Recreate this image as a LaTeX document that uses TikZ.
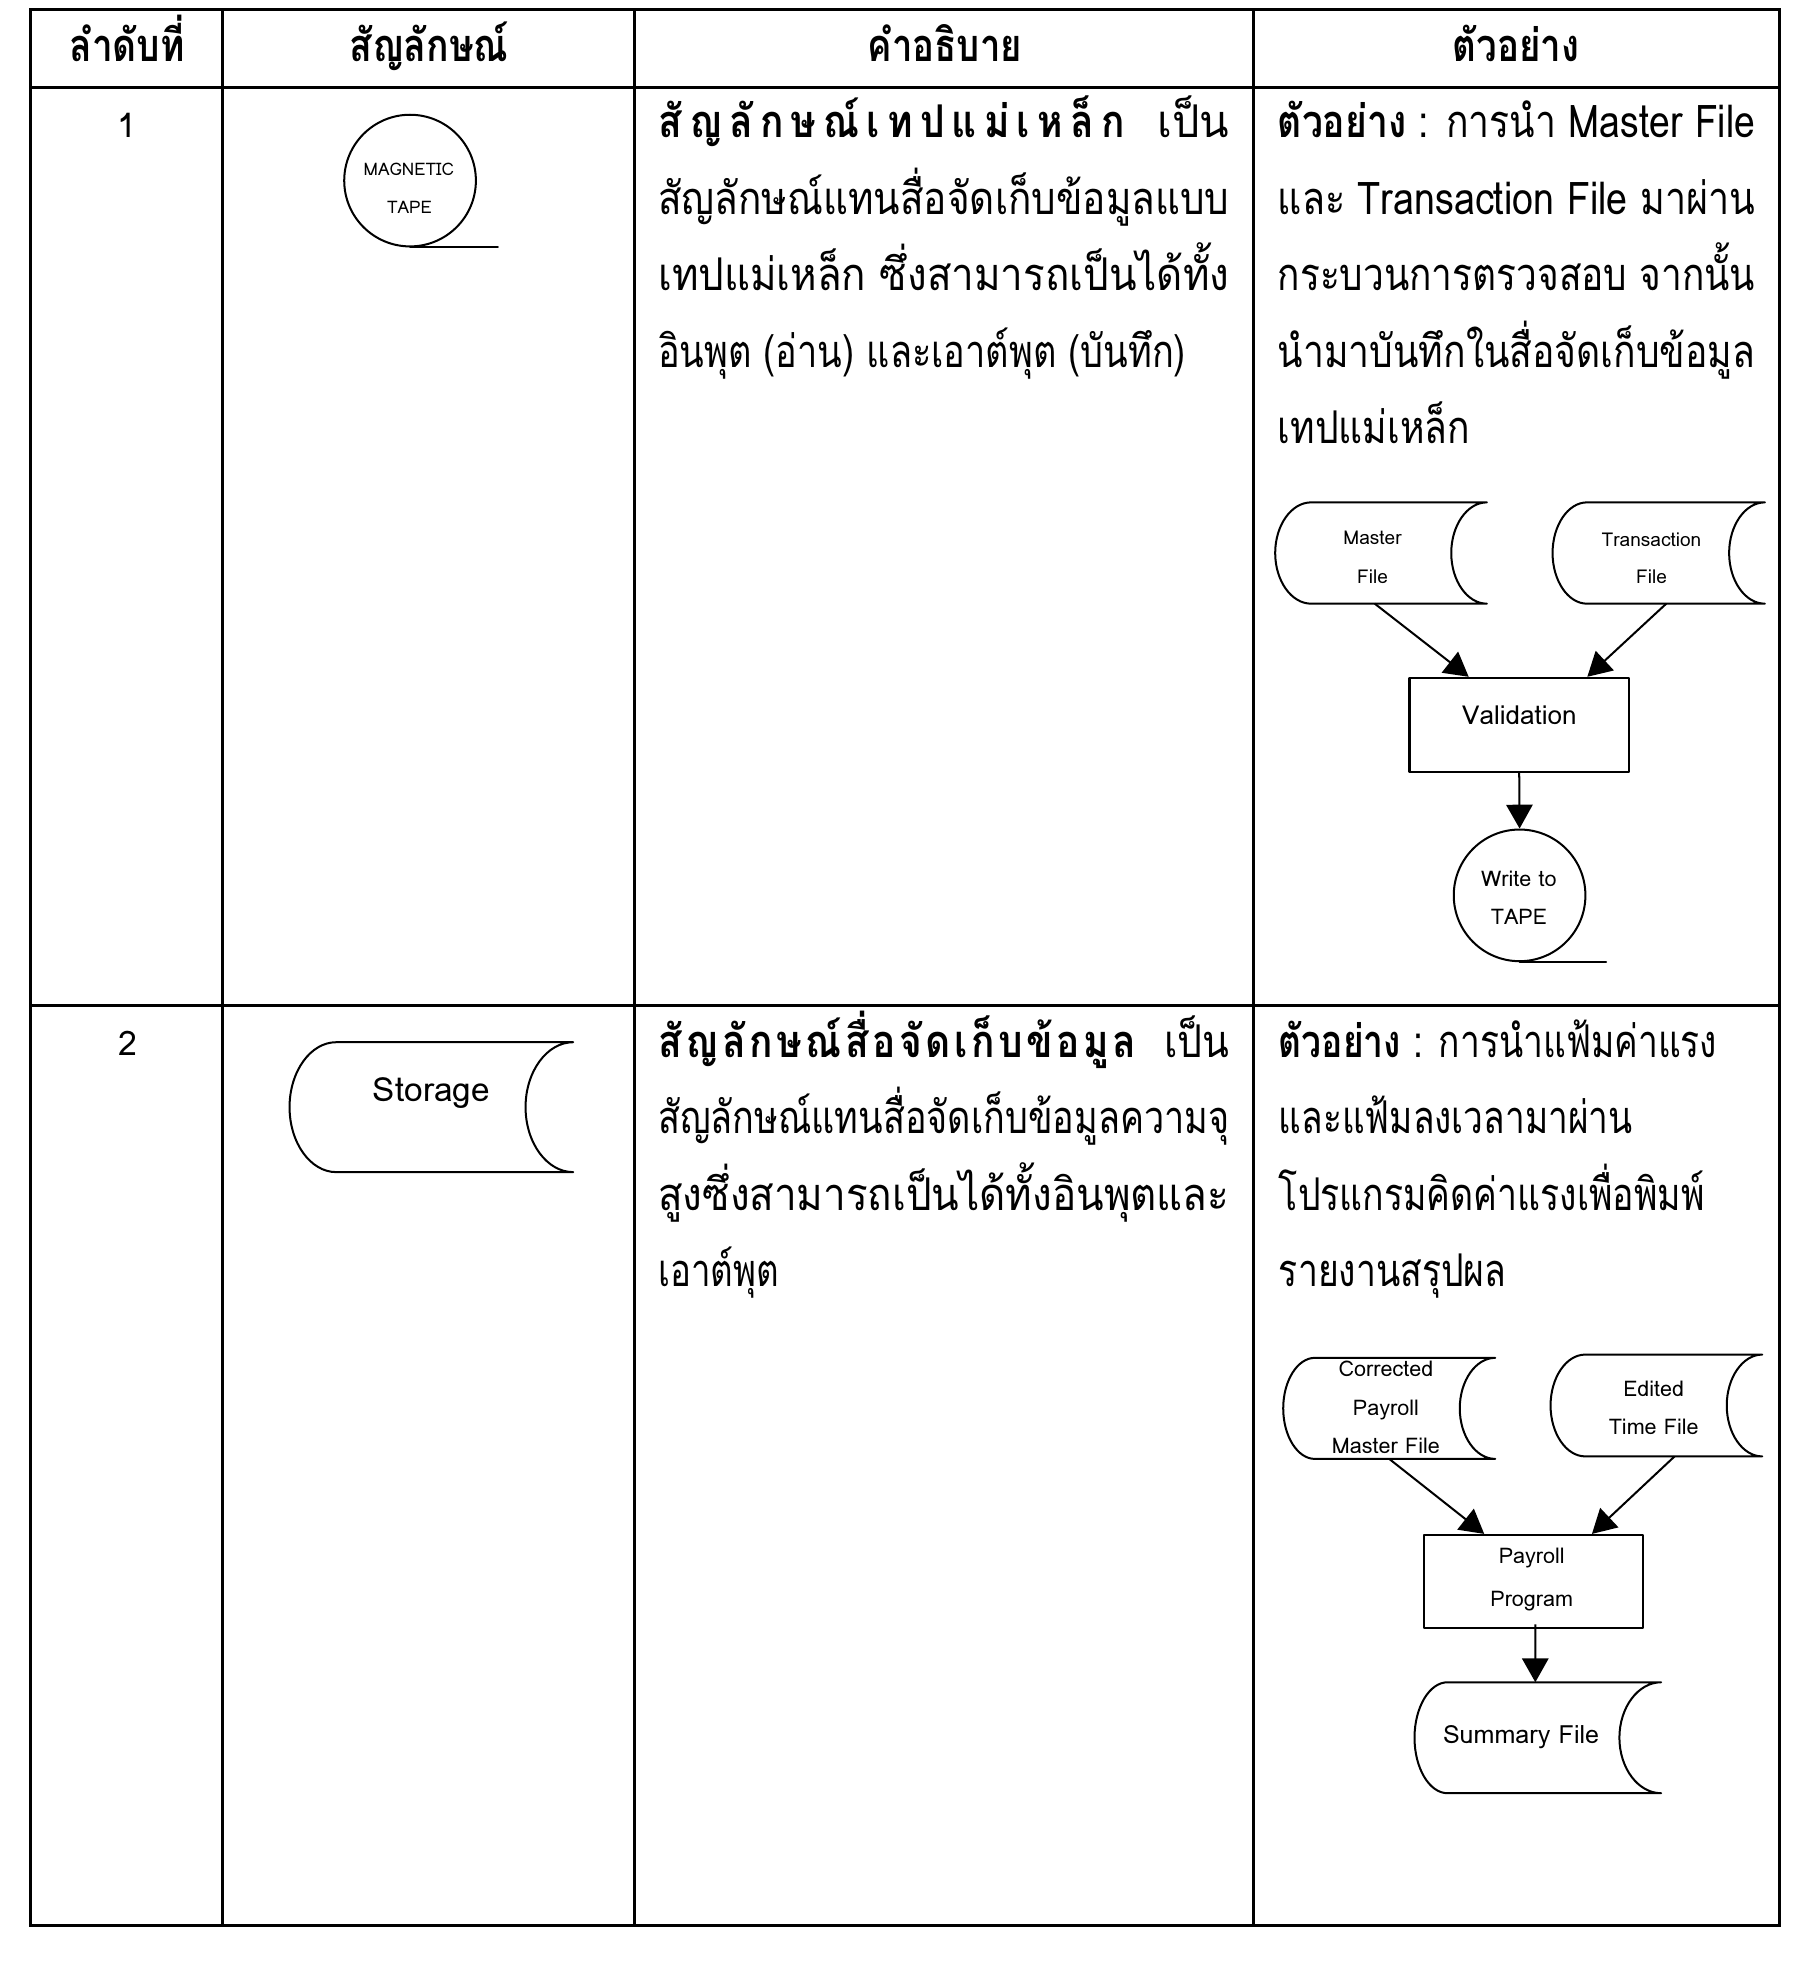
\documentclass[tikz,border=0pt]{standalone}
\usepackage{fontspec}
\usepackage{graphicx}
\setmainfont[Script=Thai]{Loma}
\newfontfamily\boldnarrow[Script=Thai, FakeStretch=0.86]{Loma Bold}
\usetikzlibrary{arrows.meta,calc}
\newlength\ul
\setlength\ul{0.5pt}
\newsavebox\sbx
\newcommand\fitw[2]{\resizebox{#1\ul}{\height}{#2}}
\newcommand\spreadw[2]{\sbox\sbx{#2}\ifdim\wd\sbx>#1\ul\resizebox{#1\ul}{\height}{\usebox\sbx}\else\makebox[#1\ul][s]{#2}\fi}
\newcommand\storeoutline[4]{%
  \draw[shp] ($(#1.north west)+(#2,0)$) -- (#1.north east)
    .. controls ($(#1.north east)+(-0.552*#3,0)$) and ($(#1.east)+(-#3,-0.552*#4)$) .. ($(#1.east)+(-#3,0)$)
    .. controls ($(#1.east)+(-#3,0.552*#4)$) and ($(#1.south east)+(-0.552*#3,0)$) .. (#1.south east)
    -- ($(#1.south west)+(#2,0)$)
    .. controls ($(#1.south west)+(0.448*#2,0)$) and ($(#1.west)+(0,0.552*#4)$) .. (#1.west)
    .. controls ($(#1.west)+(0,-0.552*#4)$) and ($(#1.north west)+(0.448*#2,0)$) .. ($(#1.north west)+(#2,0)$);%
}
\begin{document}
\begin{tikzpicture}[x=0.5pt,y=-0.5pt,
  tbl/.style={line width=1.2pt},
  shp/.style={line width=0.8pt, line join=round, line cap=round},
  arr/.style={line width=0.8pt, -{Triangle[length=9.5pt,width=10.5pt]}},
  box/.style={draw=none, inner sep=0, minimum width=#1},
  txt/.style={inner sep=0, anchor=base west, font=\fontsize{18}{20}\selectfont},
  hdr/.style={inner sep=0, anchor=base, font=\fontsize{18}{20}\selectfont\bfseries},
  num/.style={inner sep=0, anchor=base, font=\fontsize{13.5}{15}\selectfont},
  lbl/.style={inner sep=0, anchor=base, font=\fontsize{7.6}{9}\selectfont},
  lblm/.style={inner sep=0, anchor=base, font=\fontsize{8.6}{10}\selectfont},
  lblb/.style={inner sep=0, anchor=base, font=\fontsize{10.4}{12}\selectfont}]
\useasboundingbox[fill=white] (0,0) rectangle (1445,1565.4);

% table
\draw[tbl] (24.7,7.4) rectangle (1418.7,1535.6);
\draw[tbl] (24.7,70) -- (1418.7,70);
\draw[tbl] (24.7,802) -- (1418.7,802);
\draw[tbl] (177.4,7.4) -- (177.4,1535.6);
\draw[tbl] (505.9,7.4) -- (505.9,1535.6);
\draw[tbl] (999.6,7.4) -- (999.6,1535.6);

% header
\node[hdr] (h1) at (101.4,49) {\fitw{92}{ลำดับที่}};
\node[hdr] (h2) at (342,49) {\fitw{127}{สัญลักษณ์}};
\node[hdr] (h3) at (753.5,49) {\fitw{123}{คำอธิบาย}};
\node[hdr] (h4) at (1209,49) {\fitw{101}{ตัวอย่าง}};

% row 1
\node[num] (n1) at (101.4,110) {1};
\node[draw, shp, circle, minimum size=52.5pt, inner sep=0] (mt) at (327,144) {};
\draw[shp] (mt.south) -- ++(70,0);
\node[inner sep=0, anchor=base, font=\fontsize{6.9}{8}\selectfont] (mt1) at (326,139.6) {\fitw{72}{MAGNETIC}};
\node[inner sep=0, anchor=base, font=\fontsize{6.9}{8}\selectfont] (mt2) at (326.5,170) {TAPE};

\node[txt] (d1a) at (524.5,110) {\spreadw{371.9}{\boldnarrow สั\hfill ญ\hfill ลั\hfill ก\hfill ษ\hfill ณ์\hfill เ\hfill ท\hfill ป\hfill แ\hfill ม่\hfill เ\hfill ห\hfill ล็\hfill ก}};
\node[txt] (d1b) at (922.7,110) {\spreadw{57.3}{เ\hfill ป็\hfill น}};
\node[txt] (d1c) at (524.5,171) {\fitw{455.5}{สัญลักษณ์แทนสื่อจัดเก็บข้อมูลแบบ}};
\node[txt] (d1d) at (524.5,232) {\fitw{455.5}{เทปแม่เหล็ก ซึ่งสามารถเป็นได้ทั้ง}};
\node[txt] (d1e) at (524.5,293) {\fitw{420.8}{อินพุต (อ่าน) และเอาต์พุต (บันทึก)}};

\node[txt] (e1a) at (1018.6,110) {\fitw{380.7}{\textbf{ตัวอย่าง} : การนำ Master File}};
\node[txt] (e1b) at (1018.6,171) {\fitw{380.7}{และ Transaction File มาผ่าน}};
\node[txt] (e1c) at (1018.6,232) {\fitw{380.7}{กระบวนการตรวจสอบ จากนั้น}};
\node[txt] (e1d) at (1018.6,293) {\fitw{380.7}{นำมาบันทึกในสื่อจัดเก็บข้อมูล}};
\node[txt] (e1e) at (1018.6,354) {\fitw{153.3}{เทปแม่เหล็ก}};

% flowchart 1
\node[box=84pt, minimum height=40pt] (mf) at (1101.3,441) {};
\storeoutline{mf}{28.7}{28.4}{40}
\node[lbl] (mf1) at (1094.5,434.6) {Master};
\node[lbl] (mf2) at (1094.5,465) {File};
\node[box=84.25pt, minimum height=40pt] (tf) at (1322.75,441) {};
\storeoutline{tf}{27.5}{28.5}{40}
\node[lbl] (tf1) at (1317,436) {Transaction};
\node[lbl] (tf2) at (1317,465.7) {File};
\node[draw, shp, minimum width=87.5pt, minimum height=37.5pt, inner sep=0] (val) at (1211.5,578) {};
\node[lblb] (val1) at (1211.7,578) {Validation};
\node[draw, shp, circle, minimum size=52.5pt, inner sep=0] (wt) at (1211.8,714) {};
\draw[shp] (wt.south) -- ++(69,0);
\node[lblm] (wt1) at (1211.2,707) {Write to};
\node[lblm] (wt2) at (1211.2,737.6) {TAPE};
\draw[arr] ($(mf.south)+(-5,0)$) -- ($(val.north west)+(48,0)$);
\draw[arr] ($(tf.south)+(6,0)$) -- ($(val.north east)+(-34,0)$);
\draw[arr] (val.south) -- (wt.north);

% row 2
\node[num] (n2) at (101.8,842) {2};
\node[box=112.7pt, minimum height=51.4pt] (st) at (344,882.9) {};
\storeoutline{st}{37.2}{38}{51.4}
\node[inner sep=0, anchor=base, font=\fontsize{13.3}{15}\selectfont] (st1) at (344,878.5) {Storage};

\node[txt] (d2a) at (524.5,843) {\spreadw{381.5}{\boldnarrow สั\hfill ญ\hfill ลั\hfill ก\hfill ษ\hfill ณ์\hfill สื่\hfill อ\hfill จั\hfill ด\hfill เ\hfill ก็\hfill บ\hfill ข้\hfill อ\hfill มู\hfill ล}};
\node[txt] (d2b) at (928,843) {\spreadw{52}{เ\hfill ป็\hfill น}};
\node[txt] (d2c) at (524.5,904) {\fitw{455.5}{สัญลักษณ์แทนสื่อจัดเก็บข้อมูลความจุ}};
\node[txt] (d2d) at (524.5,965) {\fitw{455.5}{สูงซึ่งสามารถเป็นได้ทั้งอินพุตและ}};
\node[txt] (d2e) at (524.5,1026) {\fitw{96.1}{เอาต์พุต}};

\node[txt] (e2a) at (1019.5,843) {\fitw{349.5}{\textbf{ตัวอย่าง} : การนำแฟ้มค่าแรง}};
\node[txt] (e2b) at (1019.5,904) {\fitw{282}{และแฟ้มลงเวลามาผ่าน}};
\node[txt] (e2c) at (1019.5,965) {\fitw{339.5}{โปรแกรมคิดค่าแรงเพื่อพิมพ์}};
\node[txt] (e2d) at (1019.5,1026) {\fitw{181.4}{รายงานสรุปผล}};

% flowchart 2
\node[box=84.15pt, minimum height=39.9pt] (cp) at (1107.85,1123.1) {};
\storeoutline{cp}{25.3}{28.3}{39.9}
\node[lblm] (cp1) at (1105.2,1098) {Corrected};
\node[lblm] (cp2) at (1105.2,1128.4) {Payroll};
\node[lblm] (cp3) at (1105.2,1159) {Master File};
\node[box=84pt, minimum height=40.2pt] (et) at (1320.9,1120.8) {};
\storeoutline{et}{27.7}{28.3}{40.2}
\node[lblm] (et1) at (1318.8,1114) {Edited};
\node[lblm] (et2) at (1318.8,1144.3) {Time File};
\node[draw, shp, minimum width=87.5pt, minimum height=37.25pt, inner sep=0] (pp) at (1222.9,1261.25) {};
\node[lblm] (pp1) at (1221.5,1247) {Payroll};
\node[lblm] (pp2) at (1221.5,1281) {Program};
\node[box=97.95pt, minimum height=43.85pt] (sf) at (1226.35,1385.75) {};
\storeoutline{sf}{26.4}{33.3}{43.85}
\node[inner sep=0, anchor=base, font=\fontsize{10}{12}\selectfont] (sf1) at (1213,1390) {Summary File};
\draw[arr] (cp.south) -- ($(pp.north west)+(49,0)$);
\draw[arr] ($(et.south)+(14.5,0)$) -- ($(pp.north east)+(-41.7,0)$);
\draw[arr] ($(pp.south)+(1.4,-4)$) -- ($(sf.north)+(-2,0)$);
\end{tikzpicture}
\end{document}
